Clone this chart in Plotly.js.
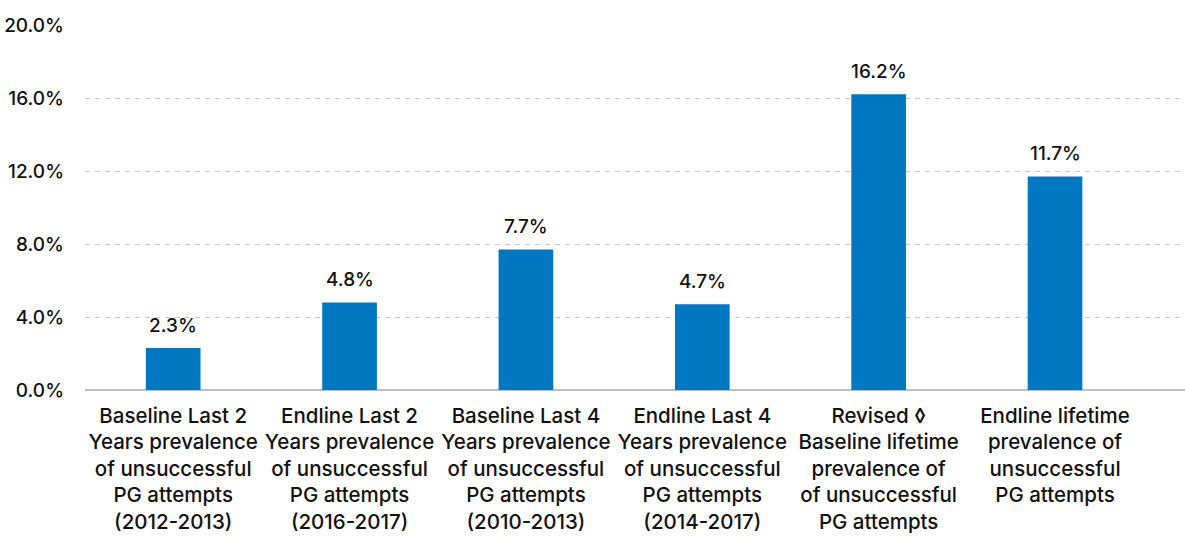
<!DOCTYPE html>
<html>
<head>
<meta charset="utf-8">
<script src="https://cdn.plot.ly/plotly-3.0.1.min.js"></script>
<style>
  html, body { margin: 0; padding: 0; background: #fff; }
  #chart { width: 1185px; height: 536px; }
</style>
</head>
<body>
<div id="chart"></div>
<script>
const categories = [
  "Baseline Last 2<br>Years prevalence<br>of unsuccessful<br>PG attempts<br>(2012-2013)",
  "Endline Last 2<br>Years prevalence<br>of unsuccessful<br>PG attempts<br>(2016-2017)",
  "Baseline Last 4<br>Years prevalence<br>of unsuccessful<br>PG attempts<br>(2010-2013)",
  "Endline Last 4<br>Years prevalence<br>of unsuccessful<br>PG attempts<br>(2014-2017)",
  "Revised \u25CA<br>Baseline lifetime<br>prevalence of<br>of unsuccessful<br>PG attempts",
  "Endline lifetime<br>prevalence of<br>unsuccessful<br>PG attempts"
];
const values = [0.023, 0.048, 0.077, 0.047, 0.162, 0.117];
const valueLabels = ["2.3%", "4.8%", "7.7%", "4.7%", "16.2%", "11.7%"];
const yTickVals = [0, 0.04, 0.08, 0.12, 0.16, 0.20];
const yTickText = ["0.0%", "4.0%", "8.0%", "12.0%", "16.0%", "20.0%"];

const FONT = "Inter, 'DejaVu Sans', sans-serif";
const BAR_COLOR = "#0077C0";

const trace = {
  type: "bar",
  x: categories,
  y: values,
  marker: { color: BAR_COLOR },
  width: 0.31,
  hoverinfo: "none"
};

const annotations = categories.map((c, i) => ({
  x: c,
  y: values[i],
  text: valueLabels[i],
  showarrow: false,
  yanchor: "bottom",
  xanchor: "center",
  yshift: 9,
  font: { family: FONT, size: 19, color: "#111", weight: 500 }
}));

const layout = {
  width: 1185,
  height: 536,
  margin: { l: 85, r: 0, t: 25, b: 146 },
  paper_bgcolor: "#fff",
  plot_bgcolor: "#fff",
  showlegend: false,
  font: { family: FONT, color: "#111" },
  xaxis: {
    type: "category",
    range: [-0.5, 5.737],
    showgrid: false,
    showline: false,
    zeroline: false,
    ticks: "",
    tickfont: { family: FONT, size: 20.5, color: "#111", weight: 500 },
    ticklabelstandoff: 11
  },
  yaxis: {
    range: [0, 0.2],
    tickvals: yTickVals,
    ticktext: yTickText,
    showgrid: true,
    gridcolor: "#c8c8c8",
    gridwidth: 1,
    griddash: "5px,5px",
    zeroline: true,
    zerolinecolor: "#bfbfbf",
    zerolinewidth: 2,
    showline: false,
    ticks: "",
    tickfont: { family: FONT, size: 19, color: "#111", weight: 500 },
    ticklabelstandoff: 20
  },
  annotations: annotations
};

Plotly.newPlot("chart", [trace], layout, { displayModeBar: false, staticPlot: true });
</script>
</body>
</html>
